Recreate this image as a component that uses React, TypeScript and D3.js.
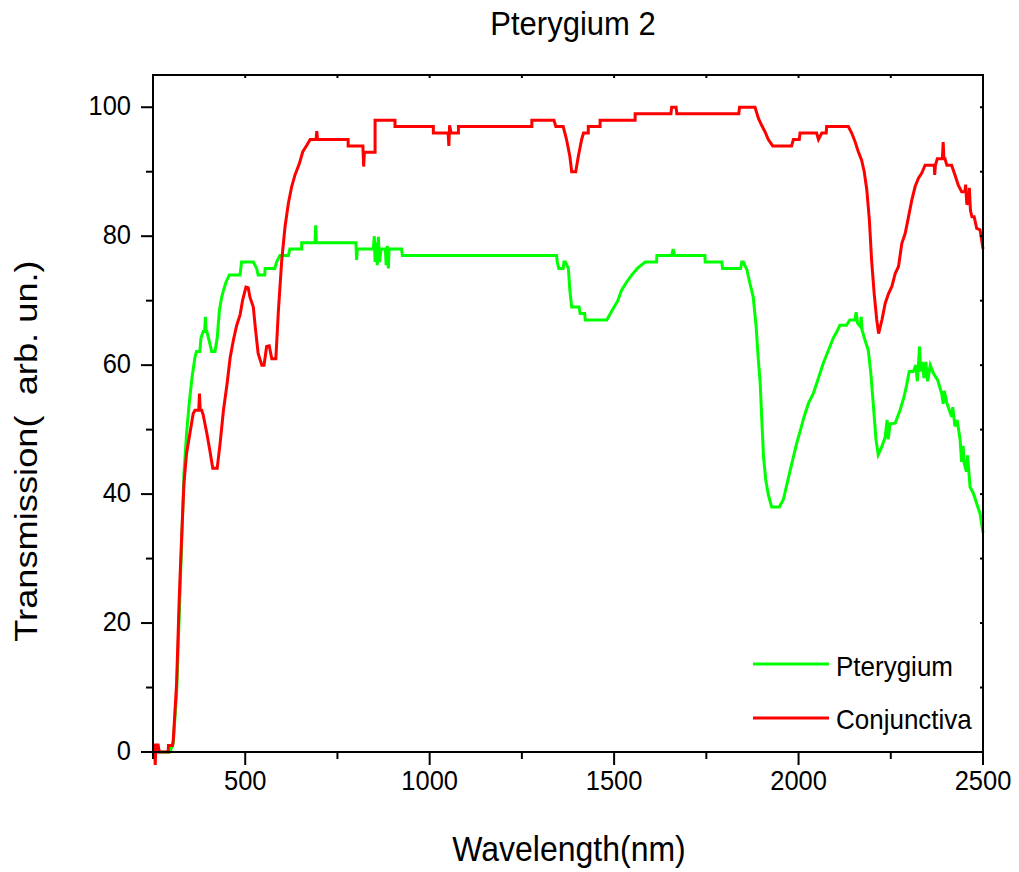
import React from "react";
import * as d3 from "d3";

// Transmission spectra (wavelength in nm, transmission in arb. un.)
const conjWavelength: number[] = [
  250, 254, 256, 258, 264, 267, 291, 292, 303, 305, 314, 321, 328, 334, 341, 350, 359, 364, 374, 376,
  378, 382, 386, 396, 404, 412, 424, 432, 441, 451, 459, 468, 477, 486, 493, 502, 508, 513, 522, 527,
  535, 545, 551, 558, 565, 572, 583, 590, 599, 608, 617, 626, 635, 647, 656, 667, 676, 692, 694, 696,
  779, 779, 819, 821, 823, 852, 852, 906, 906, 1010, 1010, 1050, 1052, 1054, 1058, 1078, 1078, 1277, 1277, 1337,
  1342, 1362, 1371, 1380, 1385, 1396, 1403, 1412, 1417, 1430, 1430, 1462, 1462, 1557, 1557, 1654, 1656, 1668, 1670, 1838,
  1840, 1882, 1891, 1900, 1909, 1918, 1930, 1981, 1986, 2002, 2004, 2049, 2054, 2063, 2075, 2076, 2135, 2144, 2153, 2162,
  2171, 2178, 2185, 2192, 2198, 2205, 2212, 2217, 2226, 2235, 2244, 2253, 2262, 2271, 2280, 2289, 2298, 2307, 2316, 2325,
  2334, 2343, 2368, 2369, 2371, 2376, 2390, 2392, 2394, 2397, 2402, 2415, 2424, 2433, 2442, 2451, 2453, 2456, 2461, 2463,
  2466, 2470, 2476, 2483, 2492, 2500,
];
const conjTransmission: number[] = [
  1.1, 1.1, -2, 1.1, 1.1, 0, 0, 1, 1, 1.9, 10.7, 23.6, 33.9, 41.7, 46.3, 49.4, 52.5, 53, 53, 55.6,
  53, 53, 52.3, 49.4, 46.8, 44, 44, 47.9, 53, 57.2, 61.1, 63.9, 66.2, 67.8, 70.1, 72.1, 72, 70.5, 69, 66,
  61.8, 60, 60, 62.9, 63, 61, 61, 68.5, 76.3, 81.5, 85.1, 87.7, 89.5, 91.3, 93.1, 94.1, 95, 95, 96.3, 95,
  95, 94, 94, 90.8, 93, 93, 98, 98, 97, 97, 96, 96, 94, 97.2, 96, 96, 97, 97, 98, 98,
  97, 97, 95, 92.4, 90, 90, 92.4, 95, 96, 96, 97, 97, 98, 98, 99, 99, 100, 100, 99, 99,
  100, 100, 98.3, 97.2, 96.2, 95, 94, 94, 95, 95, 96, 96, 95, 96, 96, 97, 97, 96, 94.7, 93.1,
  91.8, 90, 87.2, 82.5, 76.3, 71.1, 67, 64.9, 67, 69.6, 71.1, 72.2, 74.2, 75.3, 78.9, 80.4, 83, 85.6, 87.7, 89,
  89.8, 91, 91, 89.5, 91, 92, 92, 94.6, 92, 92, 91, 91, 89.5, 87.9, 86.9, 86.9, 88, 85.1, 85, 87.5,
  84, 83, 83, 81.2, 81, 78,
];

const pteryWavelength: number[] = [
  250, 296, 305, 314, 321, 328, 334, 341, 348, 356, 364, 368, 377, 380, 386, 390, 392, 394, 396, 403,
  409, 418, 424, 430, 436, 441, 448, 457, 486, 490, 522, 531, 535, 553, 554, 580, 585, 594, 617, 621,
  653, 653, 689, 691, 693, 800, 802, 804, 847, 850, 852, 855, 858, 861, 864, 868, 880, 882, 885, 888,
  890, 924, 926, 1344, 1346, 1350, 1362, 1364, 1368, 1376, 1380, 1385, 1405, 1408, 1420, 1422, 1480, 1490, 1500, 1510,
  1520, 1534, 1548, 1563, 1584, 1615, 1616, 1656, 1660, 1664, 1746, 1747, 1792, 1794, 1843, 1846, 1850, 1860, 1868, 1877,
  1885, 1891, 1896, 1900, 1905, 1911, 1918, 1927, 1948, 1959, 1970, 1982, 1995, 2004, 2015, 2027, 2040, 2054, 2067, 2081,
  2094, 2104, 2112, 2130, 2139, 2153, 2156, 2160, 2167, 2170, 2172, 2180, 2189, 2196, 2203, 2210, 2216, 2226, 2235, 2240,
  2243, 2248, 2262, 2275, 2286, 2293, 2300, 2311, 2318, 2322, 2326, 2328, 2331, 2336, 2340, 2345, 2350, 2357, 2366, 2377,
  2388, 2392, 2395, 2402, 2415, 2418, 2424, 2430, 2438, 2442, 2446, 2449, 2455, 2458, 2465, 2474, 2483, 2492, 2500,
];
const pteryTransmission: number[] = [
  0, 0, 1.4, 9.1, 21, 32.9, 43.3, 49.4, 54, 58.2, 61.3, 62.1, 62.1, 64.2, 65.2, 65.2, 67.5, 65.2, 65.2, 63.6,
  62.1, 62.1, 64.2, 68.5, 70.5, 71.6, 72.9, 74, 74, 76, 76, 75, 74, 74, 75, 75, 76, 77, 77, 78,
  78, 79, 79, 81.7, 79, 79, 76.3, 78, 78, 80, 76, 79, 75.5, 79.9, 76, 78, 78, 75.5, 78.5, 75,
  78, 78, 77, 77, 76, 75, 75, 76, 76, 75, 71.6, 69, 69, 68, 68, 67, 67, 68, 69, 70,
  71.6, 72.9, 74, 75, 76, 76, 77, 77, 78, 77, 77, 76, 76, 75, 75, 76, 76, 74.8, 72.7, 70.6,
  66, 60.8, 57.2, 52, 45.8, 42.2, 39.9, 38, 38, 39.2, 41.9, 44.8, 47.9, 49.7, 52, 54.1, 55.6, 58, 60.3, 62.3,
  64.2, 65.2, 66.2, 66.2, 67, 67, 68.2, 66.5, 66, 67.5, 65.5, 63.9, 62.3, 58.7, 53.6, 48.4, 46.1, 47.4, 48.9, 51.5,
  48.5, 50.9, 51, 53, 55.1, 56.9, 59, 59, 60, 57.5, 61, 62.9, 59, 60.5, 58, 60.5, 57.5, 60, 58.7, 57.7,
  55.6, 54, 56, 54.1, 52, 53.5, 50.5, 51.5, 48.4, 45, 47.5, 44.8, 43.5, 46, 41.1, 40.1, 38.5, 37, 34,
];

const seriesNames: string[] = ["Pterygium", "Conjunctiva"];
const seriesColors: string[] = ["#00ff00", "#ff0000"];

const xMajorTicks: number[] = [500, 1000, 1500, 2000, 2500];
const xMinorTicks: number[] = [250, 750, 1250, 1750, 2250];
const yMajorTicks: number[] = [0, 20, 40, 60, 80, 100];
const yMinorTicks: number[] = [10, 30, 50, 70, 90];

const W = 1019;
const H = 872;
const plot = { left: 153, right: 983, top: 75, bottom: 752 };
const FONT = "'Liberation Sans', Arial, Helvetica, sans-serif";
const STRETCH = 1.08;

export default function App() {
  const x = d3.scaleLinear().domain([250, 2500]).range([plot.left, plot.right]);
  const y = d3.scaleLinear().domain([0, 105]).range([plot.bottom, plot.top]);

  const line = d3
    .line<[number, number]>()
    .x((d) => x(d[0]))
    .y((d) => y(d[1]))
    .curve(d3.curveLinear);

  const ptery: [number, number][] = pteryWavelength.map((w, i) => [w, pteryTransmission[i]]);
  const conj: [number, number][] = conjWavelength.map((w, i) => [w, conjTransmission[i]]);

  const allX = [...xMajorTicks, ...xMinorTicks].sort((a, b) => a - b);
  const allY = [...yMajorTicks, ...yMinorTicks].sort((a, b) => a - b);

  const label = (
    tx: number,
    ty: number,
    text: string,
    size: number,
    anchor: "start" | "middle" | "end",
    key?: string
  ) => (
    <text
      key={key}
      transform={`translate(${tx},${ty}) scale(1,${STRETCH})`}
      fontSize={size}
      fontFamily={FONT}
      textAnchor={anchor}
      fill="#000"
    >
      {text}
    </text>
  );

  return (
    <svg
      width={W}
      height={H}
      style={{ position: "absolute", left: 0, top: 0, background: "#fff" }}
    >
      <rect x={0} y={0} width={W} height={H} fill="#fff" />

      {/* title */}
      {label(573, 35, "Pterygium 2", 31, "middle")}

      {/* spectra */}
      <path d={line(ptery) ?? ""} fill="none" stroke={seriesColors[0]} strokeWidth={3} strokeLinejoin="miter" />
      <path d={line(conj) ?? ""} fill="none" stroke={seriesColors[1]} strokeWidth={3} strokeLinejoin="miter" />

      {/* frame */}
      <rect
        x={plot.left}
        y={plot.top}
        width={plot.right - plot.left}
        height={plot.bottom - plot.top}
        fill="none"
        stroke="#000"
        strokeWidth={2}
      />

      {/* bottom axis ticks */}
      {xMajorTicks.map((t) => (
        <line key={`xM${t}`} x1={x(t)} x2={x(t)} y1={plot.bottom} y2={plot.bottom + 13} stroke="#000" strokeWidth={2} />
      ))}
      {xMinorTicks.map((t) => (
        <line key={`xm${t}`} x1={x(t)} x2={x(t)} y1={plot.bottom} y2={plot.bottom + 7} stroke="#000" strokeWidth={2} />
      ))}
      {xMajorTicks.map((t) => label(x(t), 790, String(t), 25.5, "middle", `xl${t}`))}

      {/* top axis ticks */}
      {allX.map((t) => (
        <line key={`xt${t}`} x1={x(t)} x2={x(t)} y1={plot.top} y2={plot.top + 3} stroke="#000" strokeWidth={2} />
      ))}

      {/* left axis ticks */}
      {yMajorTicks.map((t) => (
        <line key={`yM${t}`} x1={plot.left - 12} x2={plot.left} y1={y(t)} y2={y(t)} stroke="#000" strokeWidth={2} />
      ))}
      {yMinorTicks.map((t) => (
        <line key={`ym${t}`} x1={plot.left - 7} x2={plot.left} y1={y(t)} y2={y(t)} stroke="#000" strokeWidth={2} />
      ))}
      {yMajorTicks.map((t) => label(131, y(t) + 8, String(t), 25.5, "end", `yl${t}`))}

      {/* right axis ticks */}
      {allY.map((t) => (
        <line key={`yr${t}`} x1={plot.right - 3} x2={plot.right} y1={y(t)} y2={y(t)} stroke="#000" strokeWidth={2} />
      ))}

      {/* axis titles */}
      {label(569, 861, "Wavelength(nm)", 32, "middle")}
      <text
        transform="translate(37,451) scale(1,1.17) rotate(-90)"
        fontSize={31}
        fontFamily={FONT}
        textAnchor="middle"
        fill="#000"
        style={{ whiteSpace: "pre" }}
      >
        {"Transmission(  arb. un.)"}
      </text>

      {/* legend */}
      {seriesNames.map((name, i) => (
        <g key={name}>
          <line
            x1={753}
            x2={829}
            y1={664 + i * 54}
            y2={664 + i * 54}
            stroke={seriesColors[i]}
            strokeWidth={3}
          />
          {label(836, 676 + i * 53, name, 26, "start")}
        </g>
      ))}
    </svg>
  );
}
